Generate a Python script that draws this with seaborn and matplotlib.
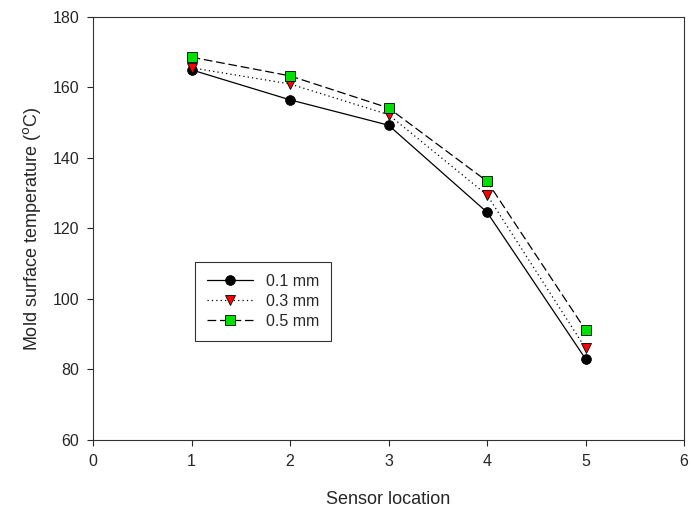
import pandas as pd
import seaborn as sns
import matplotlib.pyplot as plt

sns.set_style("ticks")
plt.rcParams["font.family"] = ["Liberation Sans", "DejaVu Sans"]

sensor = [1, 2, 3, 4, 5]
t_01 = [165.0, 156.5, 149.3, 124.6, 83.0]
t_03 = [165.6, 161.0, 152.3, 129.5, 86.0]
t_05 = [168.6, 163.3, 154.2, 133.4, 91.2]
labels = ["0.1 mm", "0.3 mm", "0.5 mm"]

df = pd.concat([
    pd.DataFrame({"Sensor location": sensor, "temp": vals, "thickness": lab})
    for vals, lab in zip([t_01, t_03, t_05], labels)
])

fig = plt.figure(figsize=(6.91, 5.09), dpi=100)
ax = fig.add_axes([0.1346, 0.1356, 0.8554, 0.831])

palette = {"0.1 mm": "black", "0.3 mm": "red", "0.5 mm": "#00e000"}
sns.lineplot(data=df, x="Sensor location", y="temp", hue="thickness", style="thickness",
             markers={"0.1 mm": "o", "0.3 mm": "v", "0.5 mm": "s"},
             dashes={"0.1 mm": "", "0.3 mm": (1, 2.5), "0.5 mm": (7, 3)},
             palette=palette, markersize=7, markeredgecolor="black", markeredgewidth=0.6,
             ax=ax, legend=False)
# lines are black in the original, only the markers are coloured
for line in ax.get_lines():
    line.set_color("black")
    line.set_linewidth(0.9)
for line, c in zip(ax.get_lines(), palette.values()):
    line.set_markerfacecolor(c)

ax.set_xlim(0, 6)
ax.set_ylim(60, 180)
ax.set_xticks(range(0, 7))
ax.set_yticks(range(60, 181, 20))
ax.tick_params(labelsize=11.5, direction="out", length=4, width=0.8, pad=6)
ax.set_xlabel("Sensor location", fontsize=13, labelpad=16)
ax.set_ylabel("Mold surface temperature ($^{\\rm o}$C)", fontsize=13, labelpad=7)
for s in ax.spines.values():
    s.set_linewidth(0.8)
    s.set_color("#333333")

handles = ax.get_lines()[:3]
ax.legend(handles, labels, loc="upper left", bbox_to_anchor=(0.159, 0.44),
          fontsize=11.5, frameon=True, fancybox=False, edgecolor="black",
          handlelength=2.9, borderpad=0.75, labelspacing=0.32, handletextpad=0.8)
ax.get_legend().get_frame().set_linewidth(0.8)

plt.savefig("out.png", dpi=100)
